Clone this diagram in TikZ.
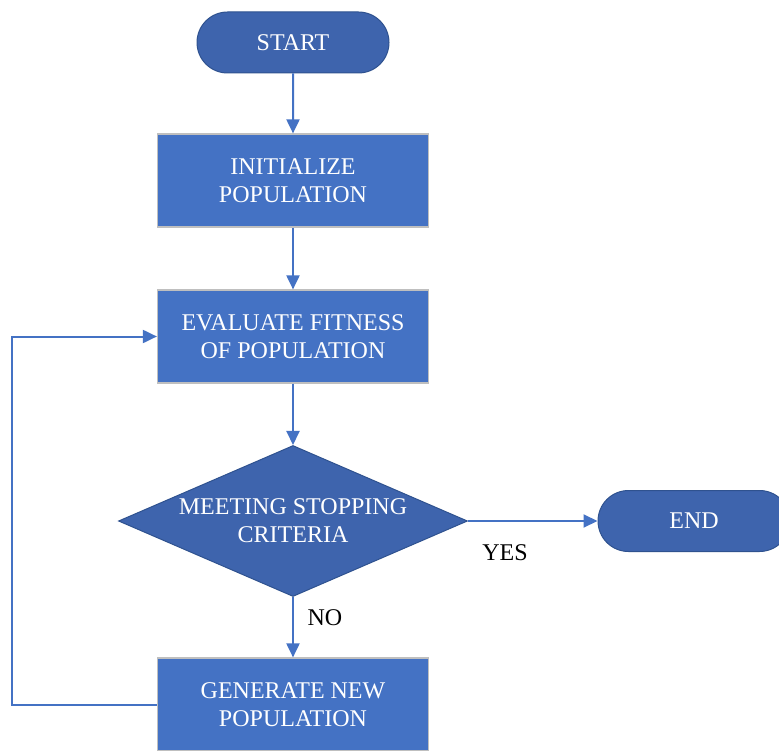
\documentclass[tikz,border=0pt]{standalone}
\usepackage{fontspec}
\setmainfont{Liberation Serif}
\usetikzlibrary{arrows.meta,shapes.geometric,shapes.misc}
\definecolor{boxblue}{HTML}{4472C4}
\definecolor{darkblue}{HTML}{3E64AD}
\definecolor{darkedge}{HTML}{2F528F}
\definecolor{greyedge}{HTML}{BFBFBF}
\begin{document}
\begin{tikzpicture}[x=1pt,y=-1pt,
  base/.style={font=\fontsize{24}{27.7}\selectfont, align=center, text=white, inner sep=0pt},
  procbox/.style={base, rectangle, fill=boxblue, draw=greyedge, line width=1.2pt, minimum width=271pt, minimum height=93pt},
  termbox/.style={base, rounded rectangle, fill=darkblue, draw=darkedge, line width=1pt, minimum width=192pt, minimum height=61pt},
  decbox/.style={diamond, fill=darkblue, draw=darkedge, line width=1pt, minimum width=349pt, minimum height=151pt, inner sep=0pt, aspect=2.31},
  flow/.style={draw=boxblue, line width=2pt, -{Triangle[length=14pt,width=13pt]}},
  lab/.style={font=\fontsize{24}{27.7}\selectfont, text=black, inner sep=0pt}]
\useasboundingbox (0,0) rectangle (779,751);
\clip (0,0) rectangle (779,751);

\node[termbox] (start) at (293,42.5) {START};
\node[procbox] (init) at (293,180.5) {INITIALIZE\\POPULATION};
\node[procbox] (eval) at (293,336.5) {EVALUATE FITNESS\\OF POPULATION};
\node[decbox, label={[base]center:MEETING STOPPING\\CRITERIA}] (dec) at (293,521) {};
\node[termbox] (end) at (694,521) {END};
\node[procbox] (gen) at (293,704.5) {GENERATE NEW\\POPULATION};

\node[lab] (yes) at (505,553) {YES};
\node[lab] (no) at (325,618) {NO};

\coordinate (loopx) at (12,0);

\draw[flow] (start) -- (init);
\draw[flow] (init) -- (eval);
\draw[flow] (eval) -- (dec);
\draw[flow] (dec) -- (gen);
\draw[flow] (dec.east) -- (end.west);
\draw[flow] (gen.west) -- (gen.west -| loopx) |- (eval.west);
\end{tikzpicture}
\end{document}
